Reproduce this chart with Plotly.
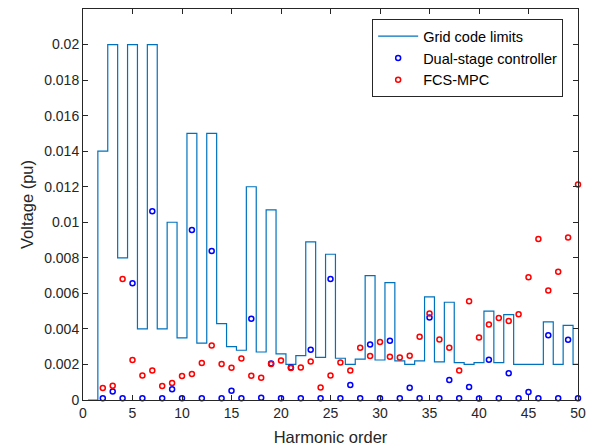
import plotly.graph_objects as go

# Harmonic orders
harmonics = list(range(1, 51))
# Grid code limits per harmonic (pu)
limits = [0.0, 0.014, 0.02, 0.008, 0.02, 0.004, 0.02, 0.004, 0.01, 0.0035,
          0.015, 0.0032, 0.015, 0.0043, 0.003, 0.0028, 0.012, 0.0027, 0.0107, 0.0026,
          0.002, 0.0025, 0.0089, 0.0024, 0.0082, 0.00235, 0.002, 0.0023, 0.007, 0.00225,
          0.0066, 0.0022, 0.002, 0.0022, 0.0058, 0.00215, 0.0055, 0.0021, 0.002, 0.0021,
          0.005, 0.0021, 0.0048, 0.002, 0.002, 0.002, 0.0044, 0.002, 0.0042, 0.002]

orders = list(range(2, 51))
dual_stage = [0.0001, 0.00048, 0.0001, 0.00657, 0.0001, 0.01062, 0.0001, 0.0006, 0.0001,
              0.00957, 0.0001, 0.00839, 0.0001, 0.00052, 0.0001, 0.00457, 0.00013, 0.00206,
              0.0001, 0.00183, 0.0001, 0.00283, 0.0001, 0.00681, 0.0001, 0.00084, 0.0001,
              0.00312, 0.0001, 0.00333, 0.0001, 0.00069, 0.0001, 0.00464, 0.0001, 0.00112,
              0.0001, 0.00073, 0.00008, 0.00226, 0.0001, 0.0015, 0.0001, 0.00045, 0.0001,
              0.00365, 0.0001, 0.00339, 0.0001]
fcs_mpc = [0.00067, 0.0008, 0.00681, 0.00225, 0.00138, 0.00166, 0.00079, 0.00096, 0.00135,
           0.00146, 0.00208, 0.00307, 0.00202, 0.00181, 0.00234, 0.00137, 0.00125, 0.00202,
           0.00222, 0.0018, 0.00183, 0.00217, 0.00071, 0.00138, 0.00211, 0.00166, 0.00294,
           0.00247, 0.00326, 0.00243, 0.00239, 0.00249, 0.00356, 0.00487, 0.0034, 0.00294,
           0.00166, 0.00556, 0.00352, 0.00425, 0.00462, 0.00444, 0.00483, 0.00691, 0.00906,
           0.00616, 0.00721, 0.00914, 0.01213]

x_ticks = [0, 5, 10, 15, 20, 25, 30, 35, 40, 45, 50]
y_ticks = [0, 0.002, 0.004, 0.006, 0.008, 0.01, 0.012, 0.014, 0.016, 0.018, 0.02]
y_tick_labels = ["0", "0.002", "0.004", "0.006", "0.008", "0.01", "0.012", "0.014",
                 "0.016", "0.018", "0.02"]

# stairs edges
stair_x = [h - 0.5 for h in harmonics] + [harmonics[-1] + 0.5]
stair_y = limits + [limits[-1]]

fig = go.Figure()
fig.add_trace(go.Scatter(x=stair_x, y=stair_y, mode="lines", line_shape="hv",
                         line=dict(color="#0072BD", width=1.2),
                         name="Grid code limits"))
fig.add_trace(go.Scatter(x=orders, y=dual_stage, mode="markers", cliponaxis=False,
                         marker=dict(symbol="circle-open", size=5, color="#0000FF",
                                     line=dict(width=1.5, color="#0000FF")),
                         name="Dual-stage controller"))
fig.add_trace(go.Scatter(x=orders, y=fcs_mpc, mode="markers", cliponaxis=False,
                         marker=dict(symbol="circle-open", size=5, color="#FF0000",
                                     line=dict(width=1.5, color="#FF0000")),
                         name="FCS-MPC"))

axis_common = dict(showgrid=False, zeroline=False, showline=True, linecolor="#262626",
                   linewidth=1, mirror="ticks", ticks="inside", ticklen=5,
                   tickcolor="#262626", tickwidth=1,
                   tickfont=dict(family="Liberation Sans, Arial, sans-serif", size=14,
                                 color="#262626"))

fig.update_layout(
    width=593, height=439,
    margin=dict(l=75, r=23, t=1, b=47),
    paper_bgcolor="white", plot_bgcolor="white",
    font=dict(family="Liberation Sans, Arial, sans-serif", color="#262626"),
    xaxis=dict(range=[0, 50], tickvals=x_ticks,
               title=dict(text="Harmonic order", font=dict(size=16.5, color="#262626"), standoff=11),
               **axis_common),
    yaxis=dict(range=[0, 0.022], tickvals=y_ticks, ticktext=y_tick_labels,
               title=dict(text="Voltage (pu)", font=dict(size=16.5, color="#262626"), standoff=6),
               **axis_common),
    legend=dict(x=0.970, y=0.974, xanchor="right", yanchor="top",
                bgcolor="white", bordercolor="#262626", borderwidth=1,
                font=dict(size=14.5, color="black"), tracegroupgap=0,
                itemwidth=40),
    showlegend=True,
)

fig.write_html("out.html")
